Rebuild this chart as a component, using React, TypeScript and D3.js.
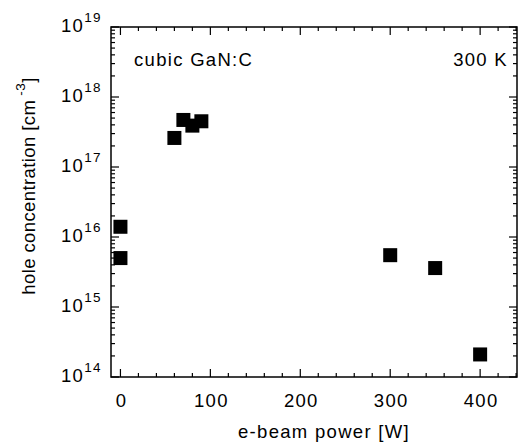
import React, { useEffect, useRef } from "react";
import * as d3 from "d3";

const power = [0, 0, 60, 70, 80, 90, 300, 350, 400];
const holes = [1.4e16, 5.0e15, 2.6e17, 4.7e17, 3.9e17, 4.5e17, 5.5e15, 3.6e15, 2.1e14];
const xTicks = [0, 100, 200, 300, 400];
const yExps = [14, 15, 16, 17, 18, 19];

const W = 522;
const H = 443;
const margin = { top: 27, right: 5, bottom: 66, left: 111 };
const FONT = "Liberation Sans, Arial, sans-serif";

const App = () => {
  const ref = useRef<SVGSVGElement>(null);

  useEffect(() => {
    const svg = d3.select(ref.current);
    svg.selectAll("*").remove();

    const x = d3.scaleLinear().domain([-10.5, 441]).range([margin.left, W - margin.right]);
    const y = d3.scaleLog().domain([1e14, 1e19]).range([H - margin.bottom, margin.top]);
    const [x0, x1] = x.range();
    const [y0, y1] = y.range();

    const g = svg.append("g");

    // frame
    g.append("rect")
      .attr("x", x0).attr("y", y1)
      .attr("width", x1 - x0).attr("height", y0 - y1)
      .attr("fill", "none").attr("stroke", "#000").attr("stroke-width", 1.5);

    // x ticks (major 100, minor 20), bottom and top, pointing inward
    const xMinor = d3.range(0, 441, 20);
    xMinor.forEach((v) => {
      const len = v % 100 === 0 ? 8 : 4;
      g.append("line").attr("x1", x(v)).attr("x2", x(v)).attr("y1", y0).attr("y2", y0 - len)
        .attr("stroke", "#000").attr("stroke-width", 1.2);
      g.append("line").attr("x1", x(v)).attr("x2", x(v)).attr("y1", y1).attr("y2", y1 + len)
        .attr("stroke", "#000").attr("stroke-width", 1.2);
    });

    // y ticks (log), left and right
    const yMinor: number[] = [];
    for (let e = 14; e < 19; e++) for (let m = 1; m < 10; m++) yMinor.push(m * Math.pow(10, e));
    yMinor.push(1e19);
    yMinor.forEach((v) => {
      const major = Math.abs(Math.log10(v) - Math.round(Math.log10(v))) < 1e-9;
      const len = major ? 8 : 4;
      g.append("line").attr("x1", x0).attr("x2", x0 + len).attr("y1", y(v)).attr("y2", y(v))
        .attr("stroke", "#000").attr("stroke-width", 1.2);
      g.append("line").attr("x1", x1).attr("x2", x1 - len).attr("y1", y(v)).attr("y2", y(v))
        .attr("stroke", "#000").attr("stroke-width", 1.2);
    });

    const txt = (sel: any, size = 18.5, ls = 1.3) =>
      sel.style("font-family", FONT).style("font-size", `${size}px`).style("letter-spacing", `${ls}px`);

    // x tick labels
    txt(g.selectAll(".xl").data(xTicks).enter().append("text")
      .attr("x", (d) => x(d) + 1).attr("y", 407)
      .attr("text-anchor", "middle"))
      .text((d) => d);

    // y tick labels: 10^n
    yExps.forEach((e) => {
      const t = txt(g.append("text")
        .attr("x", 61).attr("y", y(Math.pow(10, e)) + 5));
      t.append("tspan").text("10");
      t.append("tspan").attr("dy", -10).attr("dx", 0).style("font-size", "13.5px").text(e);
    });

    // data points
    const s = 14;
    g.selectAll(".pt").data(power).enter().append("rect")
      .attr("x", (d) => x(d) - s / 2)
      .attr("y", (d, i) => y(holes[i]) - s / 2)
      .attr("width", s).attr("height", s)
      .attr("fill", "#000");

    // annotations
    txt(g.append("text").attr("x", 134).attr("y", 66)).text("cubic GaN:C");
    txt(g.append("text").attr("x", 508).attr("y", 66).attr("text-anchor", "end")).text("300 K");

    // axis titles
    txt(g.append("text").attr("x", 324).attr("y", 438).attr("text-anchor", "middle"))
      .text("e-beam power [W]");

    const yl = txt(g.append("text")
      .attr("transform", `translate(35, 186) rotate(-90)`)
      .attr("text-anchor", "middle"), 18.5, 0.4);
    yl.append("tspan").text("hole concentration [cm");
    yl.append("tspan").attr("dy", -10).style("font-size", "13.5px").text(" -3");
    yl.append("tspan").attr("dy", 10).text("]");
  }, []);

  return (
    <svg ref={ref} width={W} height={H}
      style={{ position: "absolute", left: 0, top: 0, background: "#fff" }} />
  );
};

export default App;
